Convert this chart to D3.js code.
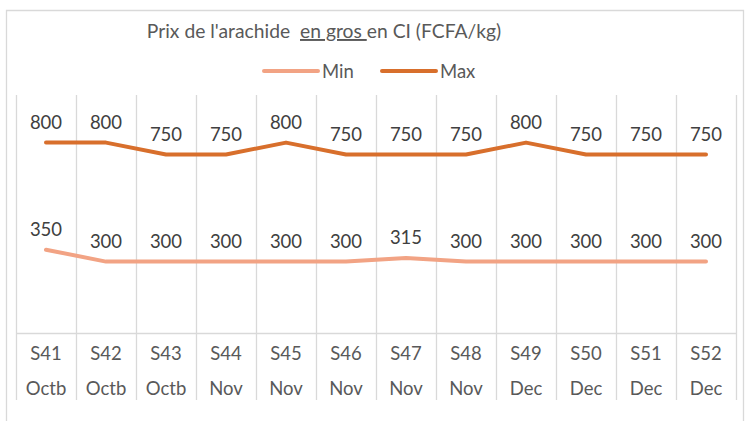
<!DOCTYPE html>
<html>
<head>
<meta charset="utf-8">
<script src="https://cdn.jsdelivr.net/npm/d3@7"></script>
<style>
  body { margin: 0; background: #fff; }
  text { font-family: Lato, "Open Sans", sans-serif; }
</style>
</head>
<body>
<div id="chart"></div>
<script>
// data
const weeks  = ["S41", "S42", "S43", "S44", "S45", "S46", "S47", "S48", "S49", "S50", "S51", "S52"];
const months = ["Octb", "Octb", "Octb", "Nov", "Nov", "Nov", "Nov", "Nov", "Dec", "Dec", "Dec", "Dec"];
const minVals = [350, 300, 300, 300, 300, 300, 315, 300, 300, 300, 300, 300];
const maxVals = [800, 800, 750, 750, 800, 750, 750, 750, 800, 750, 750, 750];

const W = 746, H = 421;
const plot = { left: 16, right: 736, top: 95, bottom: 333 };
const gridColor = "#d9d9d9";
const fs = 18.5;

const svg = d3.select("#chart").append("svg")
  .attr("width", W).attr("height", H);

// outer chart border (bottom cut off by the picture)
svg.append("path")
  .attr("d", `M6.5,${H} V10.5 H743.5 V${H}`)
  .attr("fill", "none")
  .attr("stroke", gridColor)
  .attr("stroke-width", 1.3);

const x = d3.scaleBand()
  .domain(weeks)
  .range([plot.left, plot.right]);

const y = d3.scaleLinear()
  .domain([0, 1000])
  .range([plot.bottom, plot.top]);

// vertical category gridlines, extended through the two-level axis
const bounds = weeks.map(w => x(w)).concat([plot.right]);
svg.append("g").selectAll("line")
  .data(bounds)
  .join("line")
  .attr("x1", d => d + 0.5).attr("x2", d => d + 0.5)
  .attr("y1", plot.top).attr("y2", 400)
  .attr("stroke", gridColor)
  .attr("stroke-width", 1.3);

// axis line
svg.append("line")
  .attr("x1", plot.left).attr("x2", plot.right)
  .attr("y1", plot.bottom + 0.5).attr("y2", plot.bottom + 0.5)
  .attr("stroke", gridColor)
  .attr("stroke-width", 1.3);

// category labels
const cx = w => x(w) + x.bandwidth() / 2;
svg.append("g").selectAll("text")
  .data(weeks)
  .join("text")
  .attr("x", cx)
  .attr("y", 360)
  .attr("text-anchor", "middle")
  .attr("font-size", fs)
  .attr("fill", "#595959")
  .text(d => d);

svg.append("g").selectAll("text")
  .data(weeks)
  .join("text")
  .attr("x", cx)
  .attr("y", 395)
  .attr("text-anchor", "middle")
  .attr("font-size", fs)
  .attr("fill", "#595959")
  .text((d, i) => months[i]);

const series = [
  { name: "Min", values: minVals, color: "#f2a384" },
  { name: "Max", values: maxVals, color: "#d86f2c" }
];

const line = d3.line()
  .x((d, i) => cx(weeks[i]))
  .y(d => y(d));

series.forEach(s => {
  svg.append("path")
    .datum(s.values)
    .attr("d", line)
    .attr("fill", "none")
    .attr("stroke", s.color)
    .attr("stroke-width", 4)
    .attr("stroke-linejoin", "round")
    .attr("stroke-linecap", "round");

  svg.append("g").selectAll("text")
    .data(s.values)
    .join("text")
    .attr("x", (d, i) => cx(weeks[i]))
    .attr("y", d => y(d) - 14)
    .attr("text-anchor", "middle")
    .attr("font-size", fs)
    .attr("fill", "#404040")
    .text(d => d);
});

// title with underlined part
const title = svg.append("text")
  .attr("x", 324)
  .attr("y", 38)
  .attr("text-anchor", "middle")
  .attr("font-size", 19.3)
  .attr("fill", "#595959")
  .attr("xml:space", "preserve");
title.append("tspan").text("Prix de l'arachide  ");
title.append("tspan").attr("text-decoration", "underline").text("en gros ");
title.append("tspan").text("en CI (FCFA/kg)");

// legend
const legend = [
  { name: "Min", color: "#f2a384", x0: 264 },
  { name: "Max", color: "#d86f2c", x0: 382 }
];
legend.forEach(l => {
  svg.append("line")
    .attr("x1", l.x0).attr("x2", l.x0 + 54)
    .attr("y1", 71).attr("y2", 71)
    .attr("stroke", l.color)
    .attr("stroke-width", 4)
    .attr("stroke-linecap", "round");
  svg.append("text")
    .attr("x", l.x0 + 58)
    .attr("y", 78)
    .attr("font-size", fs)
    .attr("fill", "#595959")
    .text(l.name);
});
</script>
</body>
</html>
